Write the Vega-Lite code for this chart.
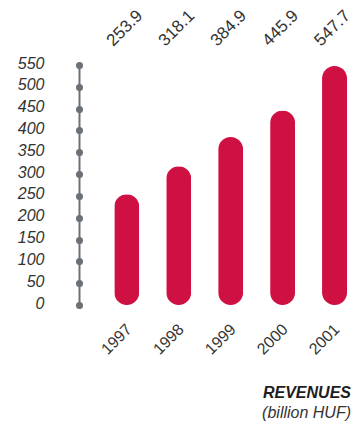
{
  "$schema": "https://vega.github.io/schema/vega-lite/v6.json",
  "autosize": {"type": "none"},
  "padding": {"left": 79, "top": 65, "right": 6, "bottom": 121},
  "width": 268,
  "height": 240,
  "background": "white",
  "config": {
    "view": {"stroke": null},
    "font": "Liberation Sans",
    "axisY": {
      "title": null,
      "grid": false,
      "domainColor": "#6b7177",
      "domainWidth": 2,
      "ticks": true,
      "tickColor": "#6b7177",
      "tickCap": "round",
      "tickWidth": 7,
      "tickSize": 0.01,
      "labelOverlap": false,
      "labelPadding": 35,
      "labelOffset": -2,
      "labelFont": "Liberation Sans",
      "labelFontSize": 16,
      "labelFontStyle": "italic",
      "labelColor": "#333333"
    }
  },
  "title": {
    "text": "REVENUES",
    "subtitle": "(billion HUF)",
    "orient": "bottom",
    "anchor": "end",
    "frame": "group",
    "dx": 4,
    "offset": 28,
    "font": "Liberation Sans",
    "fontSize": 16,
    "fontStyle": "italic",
    "fontWeight": "bold",
    "color": "#1e1e1e",
    "subtitleFont": "Liberation Sans",
    "subtitleFontSize": 16,
    "subtitleFontStyle": "italic",
    "subtitleColor": "#333333",
    "subtitlePadding": 4
  },
  "data": {
    "values": [
      {"year": "1997", "revenue": 253.9},
      {"year": "1998", "revenue": 318.1},
      {"year": "1999", "revenue": 384.9},
      {"year": "2000", "revenue": 445.9},
      {"year": "2001", "revenue": 547.7}
    ]
  },
  "encoding": {
    "x": {
      "field": "year",
      "type": "nominal",
      "sort": null,
      "scale": {"paddingInner": 0.52, "paddingOuter": 0.34, "align": 1},
      "axis": {
        "title": null,
        "orient": "bottom",
        "domain": false,
        "ticks": false,
        "labelAngle": -45,
        "labelAlign": "center",
        "labelBaseline": "middle",
        "labelPadding": 34,
        "labelOffset": -10,
        "labelOverlap": false,
        "labelFont": "Liberation Sans",
        "labelFontSize": 16,
        "labelColor": "#333333"
      }
    }
  },
  "layer": [
    {
      "mark": {"type": "bar", "color": "#cf1043", "width": 25, "cornerRadius": 12.5},
      "encoding": {
        "y": {
          "field": "revenue",
          "type": "quantitative",
          "scale": {"domain": [0, 550], "nice": false, "zero": true},
          "axis": {"title": null, "values": [0, 50, 100, 150, 200, 250, 300, 350, 400, 450, 500, 550]}
        }
      }
    },
    {
      "mark": {
        "type": "text",
        "angle": -45,
        "align": "center",
        "baseline": "middle",
        "dx": -1.4,
        "dy": -1.4,
        "font": "Liberation Sans",
        "fontSize": 17,
        "color": "#333333"
      },
      "encoding": {
        "y": {
          "datum": 634,
          "type": "quantitative",
          "axis": {"title": null, "values": [0, 50, 100, 150, 200, 250, 300, 350, 400, 450, 500, 550]}
        },
        "text": {"field": "revenue", "type": "quantitative", "format": ".1f"}
      }
    }
  ]
}
